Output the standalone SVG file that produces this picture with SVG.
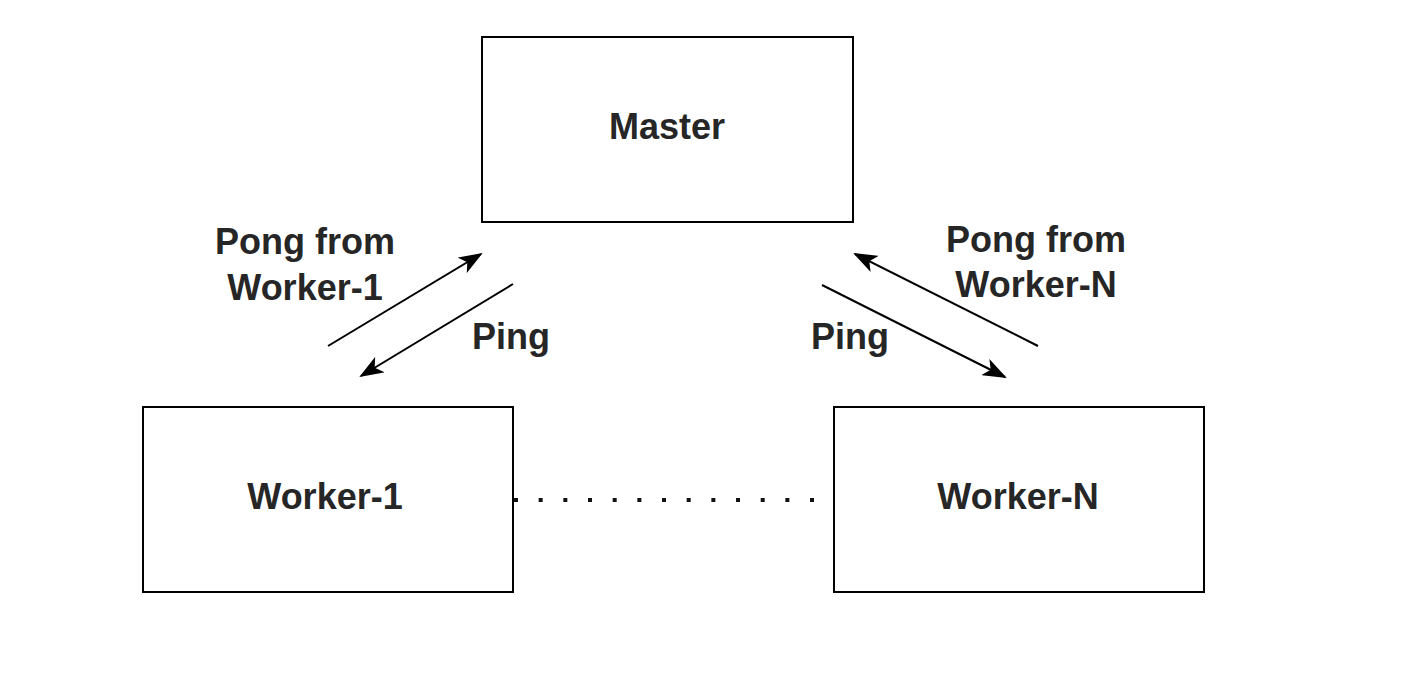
<svg xmlns="http://www.w3.org/2000/svg" width="1406" height="682" viewBox="0 0 1406 682">
<style>
.box{fill:#fff;stroke:#000;stroke-width:2}
.t{font-family:"Liberation Sans",Arial,sans-serif;font-size:36px;font-weight:bold;fill:#262626;text-anchor:middle}
.c{stroke:#000;stroke-width:2;fill:none}
</style>
<defs>
<marker id="ah" viewBox="0 0 24 18" refX="22" refY="9" markerWidth="24" markerHeight="18" markerUnits="userSpaceOnUse" orient="auto">
<path d="M0,0 L24,9 L0,18 L6,9 z" fill="#000"/>
</marker>
</defs>
<rect width="1406" height="682" fill="#fff"/>
<g id="master"><rect class="box" x="482" y="37" width="371" height="185"/><text class="t" x="667" y="139">Master</text></g>
<g id="worker1"><rect class="box" x="143" y="407" width="370" height="185"/><text class="t" x="325" y="509">Worker-1</text></g>
<g id="workerN"><rect class="box" x="834" y="407" width="370" height="185"/><text class="t" x="1018" y="509">Worker-N</text></g>
<g id="connectors">
<line class="c" x1="328" y1="346" x2="481" y2="254" marker-end="url(#ah)"/>
<line class="c" x1="513" y1="284" x2="361" y2="376" marker-end="url(#ah)"/>
<line class="c" x1="822" y1="285" x2="1005" y2="377" marker-end="url(#ah)"/>
<line class="c" x1="1038" y1="346" x2="855" y2="254" marker-end="url(#ah)"/>
<line x1="514" y1="500" x2="814" y2="500" stroke="#111" stroke-width="4" stroke-dasharray="4 20.67"/>
</g>
<g id="labels">
<text class="t" x="305" y="254">Pong from</text>
<text class="t" x="305" y="300">Worker-1</text>
<text class="t" x="511" y="349">Ping</text>
<text class="t" x="850" y="349">Ping</text>
<text class="t" x="1036" y="252">Pong from</text>
<text class="t" x="1036" y="297">Worker-N</text>
</g>
</svg>
